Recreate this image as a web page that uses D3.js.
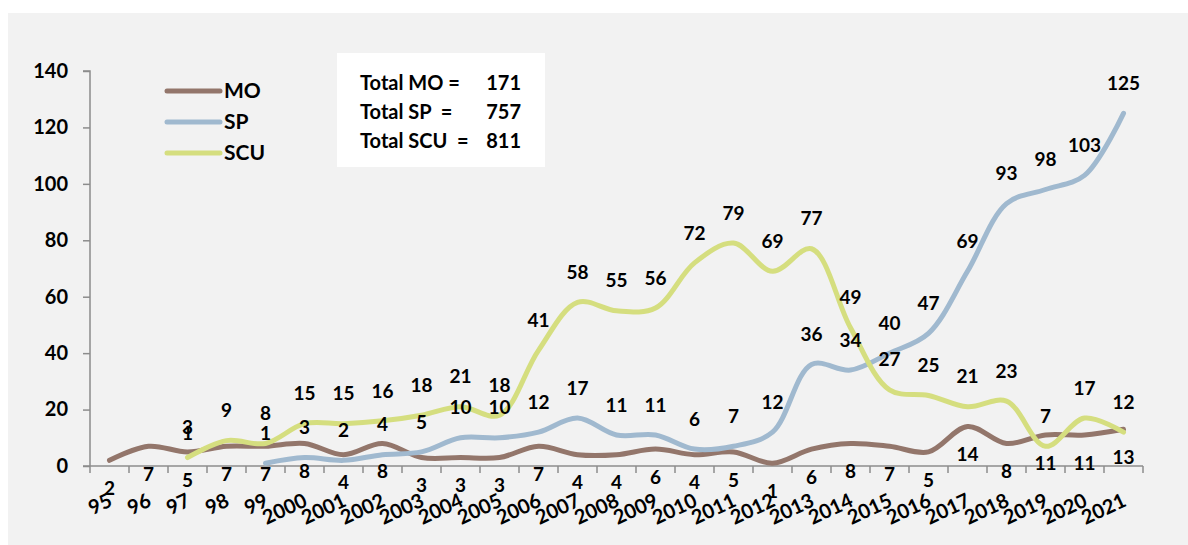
<!DOCTYPE html>
<html><head><meta charset="utf-8">
<script src="https://cdn.jsdelivr.net/npm/d3@7"></script>
<style>
body{margin:0;background:#fff;}
text{font-family:Lato,"Open Sans",sans-serif;font-weight:bold;fill:#000;}
</style></head>
<body><svg id="c" width="1188" height="545"></svg>
<script>
const categories = ["95","96","97","98","99","2000","2001","2002","2003","2004","2005","2006","2007","2008","2009","2010","2011","2012","2013","2014","2015","2016","2017","2018","2019","2020","2021"];
const moValues  = [2,7,5,7,7,8,4,8,3,3,3,7,4,4,6,4,5,1,6,8,7,5,14,8,11,11,13];
const spValues  = [null,null,1,null,1,3,2,4,5,10,10,12,17,11,11,6,7,12,36,34,40,47,69,93,98,103,125];
const scuValues = [null,null,3,9,8,15,15,16,18,21,18,41,58,55,56,72,79,69,77,49,27,25,21,23,7,17,12];
const yTicks = [0,20,40,60,80,100,120,140];
const seriesNames = ["MO","SP","SCU"];
const totalLabels = ["Total MO =","Total SP  =","Total SCU  ="];
const totalValues = [171,757,811];
const colors = {MO:"#93766B", SP:"#A0B9CF", SCU:"#D5DE7F"};

const svg = d3.select("#c");
svg.append("rect").attr("x",8).attr("y",13).attr("width",1180).attr("height",532).attr("fill","#f2f2f2");

const m = {l:90, r:1143, t:71, b:466};
const x = d3.scaleBand().domain(categories).range([m.l, m.r]);
const y = d3.scaleLinear().domain([0,140]).range([m.b, m.t]);
const cx = c => x(c) + x.bandwidth()/2;

// y axis
const ya = svg.append("g").attr("transform",`translate(${m.l},0)`)
  .call(d3.axisLeft(y).tickValues(yTicks).tickSize(7).tickPadding(15));
ya.select(".domain").attr("stroke","#8c8c8c").attr("stroke-width",1.5).attr("d",`M-7,${m.t}H0V${m.b}`);
ya.selectAll(".tick line").attr("stroke","#8c8c8c").attr("stroke-width",1.5);
ya.selectAll(".tick text").style("font-size","20px").style("font-family","Lato").style("font-weight","bold").attr("fill","#000");

// x axis
const xa = svg.append("g").attr("transform",`translate(0,${m.b})`);
xa.append("line").attr("x1",m.l-7).attr("x2",m.r).attr("stroke","#8c8c8c").attr("stroke-width",1.5);
const bounds = categories.map(c=>x(c)).concat([m.r]);
xa.selectAll("line.t").data(bounds).enter().append("line").attr("class","t")
  .attr("x1",d=>d).attr("x2",d=>d).attr("y1",0).attr("y2",7).attr("stroke","#8c8c8c").attr("stroke-width",1.5);
xa.selectAll("text").data(categories).enter().append("text")
  .attr("transform",d=>`translate(${cx(d)+1},${33}) rotate(-25)`)
  .attr("text-anchor","end").attr("dy","0.35em").style("font-size","20px").text(d=>d);

// lines (lone points are not drawn, as in the original)
const data = {MO:moValues, SP:spValues, SCU:scuValues};
const line = vals => {
  const pts = categories.map((c,i)=>({c, v:vals[i],
    ok: vals[i]!=null && ((i>0 && vals[i-1]!=null) || (i<vals.length-1 && vals[i+1]!=null))}));
  return d3.line().defined(d=>d.ok).x(d=>cx(d.c)).y(d=>y(d.v)).curve(d3.curveCatmullRom.alpha(0.5))(pts);
};
seriesNames.forEach(n=>{
  svg.append("path").attr("d",line(data[n])).attr("fill","none").attr("stroke",colors[n]).attr("stroke-width",5).attr("stroke-linecap","round");
});

// labels
const lbl = (vals, off) => {
  svg.append("g").selectAll("text").data(categories.map((c,i)=>({c,v:vals[i]})).filter(d=>d.v!=null)).enter().append("text")
    .attr("x",d=>cx(d.c)).attr("y",d=>y(d.v)+off).attr("dy","0.35em").attr("text-anchor","middle")
    .style("font-size","19px").text(d=>d.v);
};
lbl(moValues, 28);
lbl(spValues, -30);
lbl(scuValues, -30);

// legend
const lg = svg.append("g");
seriesNames.forEach((n,i)=>{
  const yy = 91 + i*31;
  lg.append("line").attr("x1",167).attr("x2",220).attr("y1",yy).attr("y2",yy).attr("stroke",colors[n]).attr("stroke-width",5).attr("stroke-linecap","round");
  lg.append("text").attr("x",224).attr("y",yy).attr("dy","0.35em").style("font-size","21px").text(n);
});

// totals box
svg.append("rect").attr("x",337).attr("y",53).attr("width",208).attr("height",114).attr("fill","#fff");
totalLabels.forEach((t,i)=>{
  svg.append("text").attr("x",360).attr("y",83+i*29).attr("dy","0.35em").style("font-size","20px").text(t.replace(/ /g,"\u00a0"));
  svg.append("text").attr("x",521).attr("y",83+i*29).attr("dy","0.35em").attr("text-anchor","end").style("font-size","20px").text(totalValues[i]);
});
</script></body></html>
